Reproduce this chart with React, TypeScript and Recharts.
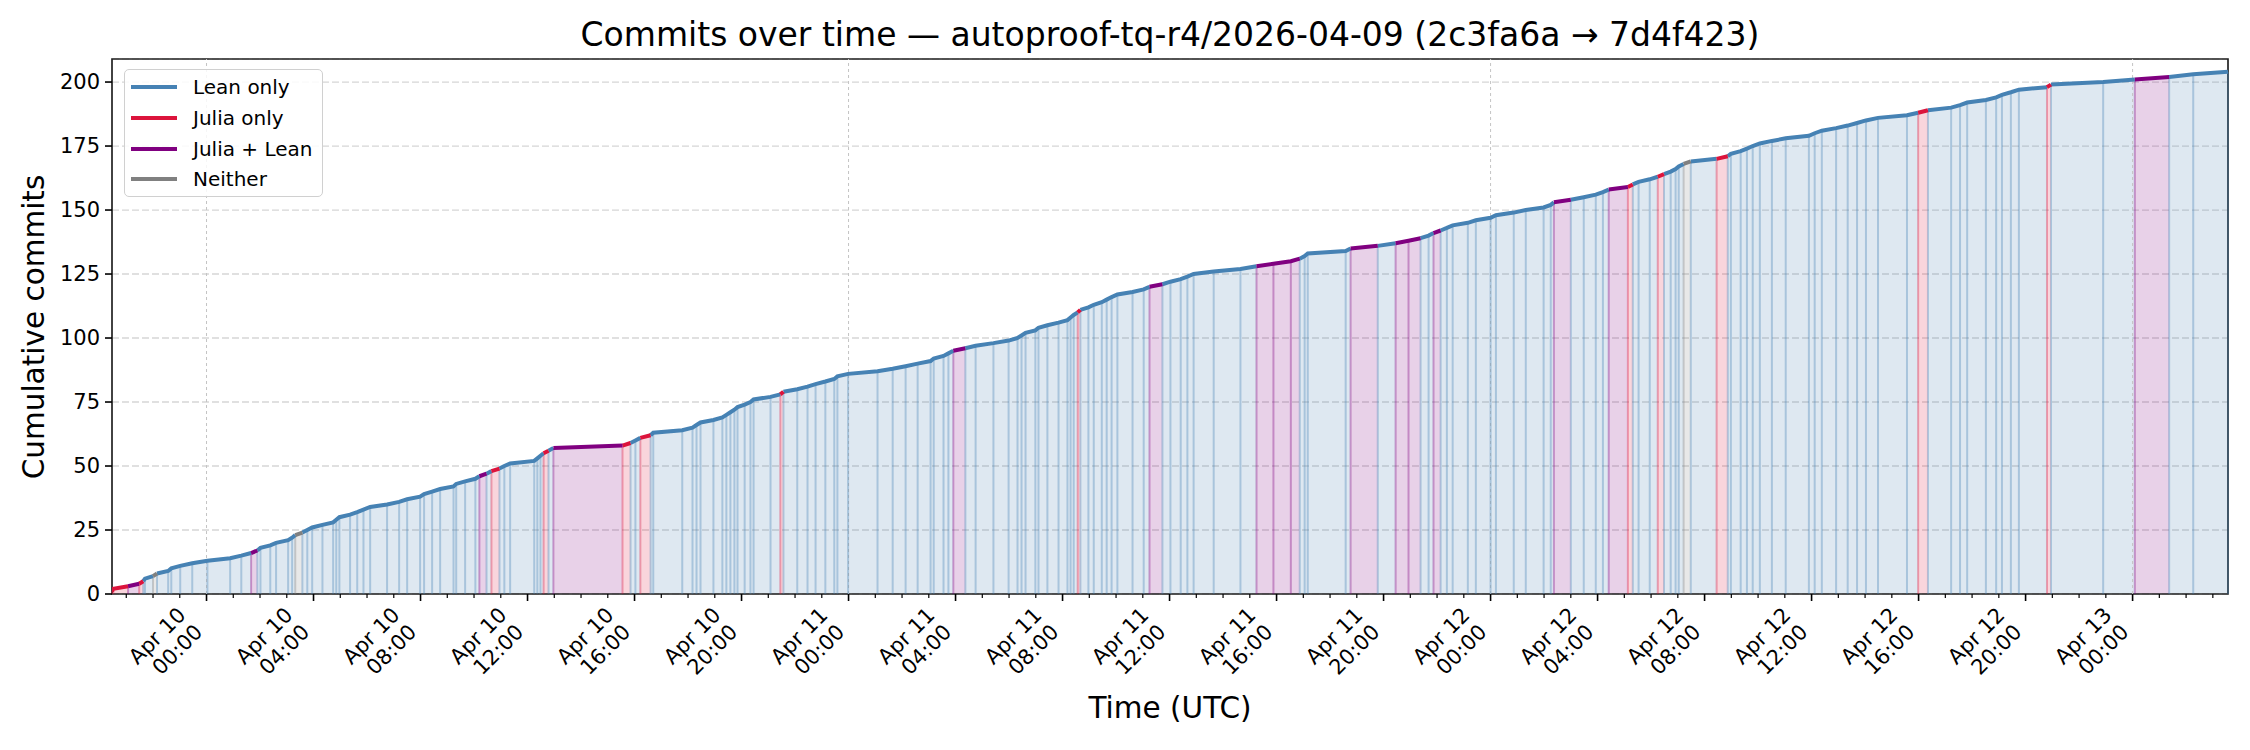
import React from 'react';
import {
  ComposedChart,
  Area,
  Line,
  XAxis,
  YAxis,
  CartesianGrid,
  ReferenceLine,
  ReferenceArea
} from 'recharts';

// commit times (UTC), one array per day
const COMMITS_APR09 = [
  '20:28', '20:31', '21:04', '21:29', '21:38', '21:42', '22:00', '22:09', '22:34', '22:41',
  '23:01', '23:28'
];
const COMMITS_APR10 = [
  '00:02', '00:53', '01:18', '01:40', '01:54', '02:01', '02:23', '02:36', '03:03', '03:12',
  '03:19', '03:35', '03:46', '03:57', '04:20', '04:44', '04:51', '04:58', '05:22', '05:38',
  '05:52', '06:07', '06:45', '07:12', '07:30', '07:59', '08:08', '08:26', '08:44', '09:14',
  '09:20', '09:40', '10:03', '10:12', '10:28', '10:39', '10:57', '11:08', '11:21', '12:15',
  '12:22', '12:29', '12:36', '12:47', '12:58', '15:33', '15:51', '16:02', '16:13', '16:36',
  '16:42', '17:47', '18:10', '18:19', '18:28', '18:57', '19:17', '19:26', '19:35', '19:44',
  '19:51', '20:07', '20:20', '20:27', '21:05', '21:27', '21:34', '22:05', '22:28', '22:46',
  '23:08', '23:28', '23:35', '23:59'
];
const COMMITS_APR11 = [
  '01:05', '01:39', '02:08', '02:35', '03:04', '03:11', '03:33', '03:44', '03:55', '04:22',
  '04:45', '05:25', '05:59', '06:19', '06:28', '06:37', '06:59', '07:06', '07:26', '07:51',
  '08:11', '08:18', '08:25', '08:34', '08:40', '08:58', '09:10', '09:28', '09:39', '09:50',
  '10:03', '10:37', '11:02', '11:15', '11:44', '12:02', '12:25', '12:40', '12:54', '13:39',
  '14:39', '15:15', '15:53', '16:32', '16:52', '17:03', '17:10', '18:35', '18:46', '19:47',
  '20:27', '20:56', '21:23', '21:41', '21:52', '22:08', '22:22', '22:35', '23:09', '23:27'
];
const COMMITS_APR12 = [
  '00:00', '00:12', '00:52', '01:19', '01:59', '02:15', '02:22', '03:00', '03:29', '03:56',
  '04:12', '04:25', '05:08', '05:19', '05:32', '05:57', '06:15', '06:29', '06:44', '06:55',
  '07:02', '07:13', '07:29', '08:27', '08:52', '08:59', '09:21', '09:35', '09:48', '10:04',
  '10:31', '11:02', '11:54', '12:07', '12:23', '12:55', '13:21', '13:42', '14:02', '14:29',
  '15:34', '15:59', '16:21', '17:13', '17:33', '17:49', '18:31', '18:54', '19:07', '19:27',
  '19:45', '20:48', '20:57', '22:54'
];
const COMMITS_APR13 = ['00:05', '01:22', '02:16', '03:34'];

// commit numbers (1-based) that are not "Lean only"
const JULIA_ONLY = [1, 2, 4, 48, 55, 58, 61, 78, 110, 159, 163, 170, 188, 198];
const JULIA_LEAN = [3, 16, 46, 57, 95, 120, 128, 129, 130, 135, 137, 138, 141, 153, 158, 201];
const NEITHER = [7, 23, 168];

const SERIES = [
  { key: 'lean', label: 'Lean only', color: '#4682b4' },
  { key: 'julia', label: 'Julia only', color: '#dc143c' },
  { key: 'both', label: 'Julia + Lean', color: '#800080' },
  { key: 'neither', label: 'Neither', color: '#808080' }
];

const Y_TICKS = [0, 25, 50, 75, 100, 125, 150, 175, 200];
const LABEL_DAYS = [10, 10, 10, 10, 10, 10, 11, 11, 11, 11, 11, 11, 12, 12, 12, 12, 12, 12, 13];
const LABEL_HOURS = [0, 4, 8, 12, 16, 20, 0, 4, 8, 12, 16, 20, 0, 4, 8, 12, 16, 20, 0];

const FONT = '"DejaVu Sans", sans-serif';
const HOUR = 3600 * 1000;

const toMs = (day: number, hhmm: string) => {
  const [h, m] = hhmm.split(':').map(Number);
  return Date.UTC(2026, 3, day, h, m);
};

const times = [
  ...COMMITS_APR09.map((s) => toMs(9, s)),
  ...COMMITS_APR10.map((s) => toMs(10, s)),
  ...COMMITS_APR11.map((s) => toMs(11, s)),
  ...COMMITS_APR12.map((s) => toMs(12, s)),
  ...COMMITS_APR13.map((s) => toMs(13, s))
];

const typeOf = (n: number) =>
  JULIA_ONLY.includes(n) ? 'julia' : JULIA_LEAN.includes(n) ? 'both' : NEITHER.includes(n) ? 'neither' : 'lean';

const commits = times.map((t, i) => ({ t, n: i + 1, type: typeOf(i + 1) }));
const colorOf = (type: string) => SERIES.find((s) => s.key === type)!.color;

// each segment (commit i -> i+1) takes the colour of commit i
const rows: Record<string, number>[] = [];
commits.slice(0, -1).forEach((c, i) => {
  const next = commits[i + 1];
  rows.push({ t: c.t, [c.type]: c.n });
  rows.push({ t: next.t, [c.type]: next.n });
});

const tMin = times[0];
const tMax = times[times.length - 1];
const labelTicks = LABEL_DAYS.map((d, i) => Date.UTC(2026, 3, d, LABEL_HOURS[i]));
const hourTicks: number[] = [];
for (let t = Math.ceil(tMin / HOUR) * HOUR; t <= tMax; t += HOUR) hourTicks.push(t);
const dayLines = labelTicks.filter((_, i) => LABEL_HOURS[i] === 0);

const pad = (v: number) => String(v).padStart(2, '0');

const XTick = (props: any) => {
  const { x, y, payload } = props;
  const idx = labelTicks.indexOf(payload.value);
  const major = idx >= 0;
  return (
    <g>
      <line x1={x} x2={x} y1={y} y2={y + (major ? 7 : 4)} stroke="#000" strokeWidth={major ? 1.6 : 1.2} />
      {major && (
        <g transform={`translate(${x - 31},${y + 11}) rotate(-45)`}>
          <text textAnchor="end" fontSize={21} fontFamily={FONT} fill="#000">
            <tspan x={0} y={16}>{`Apr ${LABEL_DAYS[idx]}`}</tspan>
            <tspan x={0} y={40}>{`${pad(LABEL_HOURS[idx])}:00`}</tspan>
          </text>
        </g>
      )}
    </g>
  );
};

const LegendBox = () => (
  <div
    style={{
      position: 'absolute',
      left: 124,
      top: 69,
      width: 197,
      height: 126,
      border: '1.5px solid #d0d0d0',
      borderRadius: 5,
      background: 'rgba(255,255,255,0.85)',
      fontFamily: FONT,
      fontSize: 20
    }}
  >
    {SERIES.map((s, i) => (
      <div key={s.key} style={{ position: 'absolute', left: 6, top: 4 + i * 30.8, height: 26, display: 'flex', alignItems: 'center' }}>
        <span style={{ display: 'inline-block', width: 46, height: 4, background: s.color, marginRight: 16 }} />
        <span>{s.label}</span>
      </div>
    ))}
  </div>
);

export default function App() {
  return (
    <div style={{ position: 'absolute', left: 0, top: 0, width: 2250, height: 750, background: '#fff', fontFamily: FONT }}>
      <div style={{ position: 'absolute', left: 0, width: 2340, top: 15, textAlign: 'center', fontSize: 33 }}>
        Commits over time — autoproof-tq-r4/2026-04-09 (2c3fa6a → 7d4f423)
      </div>
      <div
        style={{
          position: 'absolute',
          left: 34,
          top: 327,
          transform: 'translate(-50%, -50%) rotate(-90deg)',
          fontSize: 29.5,
          whiteSpace: 'nowrap'
        }}
      >
        Cumulative commits
      </div>
      <div style={{ position: 'absolute', left: 0, width: 2340, top: 691, textAlign: 'center', fontSize: 29.5 }}>Time (UTC)</div>
      <ComposedChart
        width={2250}
        height={750}
        data={rows}
        margin={{ top: 59, right: 22, bottom: 56, left: 0 }}
      >
        <CartesianGrid vertical={false} horizontal stroke="#d6d6d6" strokeDasharray="7 3" strokeWidth={1.3} />
        <XAxis
          dataKey="t"
          type="number"
          domain={[tMin, tMax]}
          ticks={hourTicks}
          interval={0}
          tick={<XTick />}
          tickLine={false}
          tickSize={0}
          tickMargin={0}
          axisLine={false}
          height={100}
          allowDataOverflow
        />
        <YAxis
          type="number"
          domain={[0, 209]}
          ticks={Y_TICKS}
          width={112}
          axisLine={false}
          tickSize={7}
          tickMargin={5}
          tickLine={{ stroke: '#000', strokeWidth: 1.6 }}
          tick={{ fill: '#000', fontSize: 21, fontFamily: FONT }}
          allowDataOverflow
        />
        {dayLines.map((t) => (
          <ReferenceLine key={`d${t}`} x={t} stroke="#c4c4c4" strokeDasharray="3 3" strokeWidth={1} />
        ))}
        {SERIES.map((s) => (
          <Area
            key={`a${s.key}`}
            dataKey={s.key}
            type="linear"
            stroke="none"
            fill={s.color}
            fillOpacity={0.18}
            connectNulls={false}
            isAnimationActive={false}
          />
        ))}
        {commits.map((c) => (
          <ReferenceLine
            key={`c${c.n}`}
            segment={[{ x: c.t, y: 0 }, { x: c.t, y: c.n }]}
            stroke={colorOf(c.type)}
            strokeOpacity={0.35}
            strokeWidth={2}
          />
        ))}
        {SERIES.map((s) => (
          <Line
            key={`l${s.key}`}
            dataKey={s.key}
            type="linear"
            stroke={s.color}
            strokeWidth={4}
            dot={false}
            connectNulls={false}
            isAnimationActive={false}
          />
        ))}
        <ReferenceArea x1={tMin} x2={tMax} y1={0} y2={209} fill="none" stroke="#222" strokeWidth={1.7} />
      </ComposedChart>
      <LegendBox />
    </div>
  );
}
